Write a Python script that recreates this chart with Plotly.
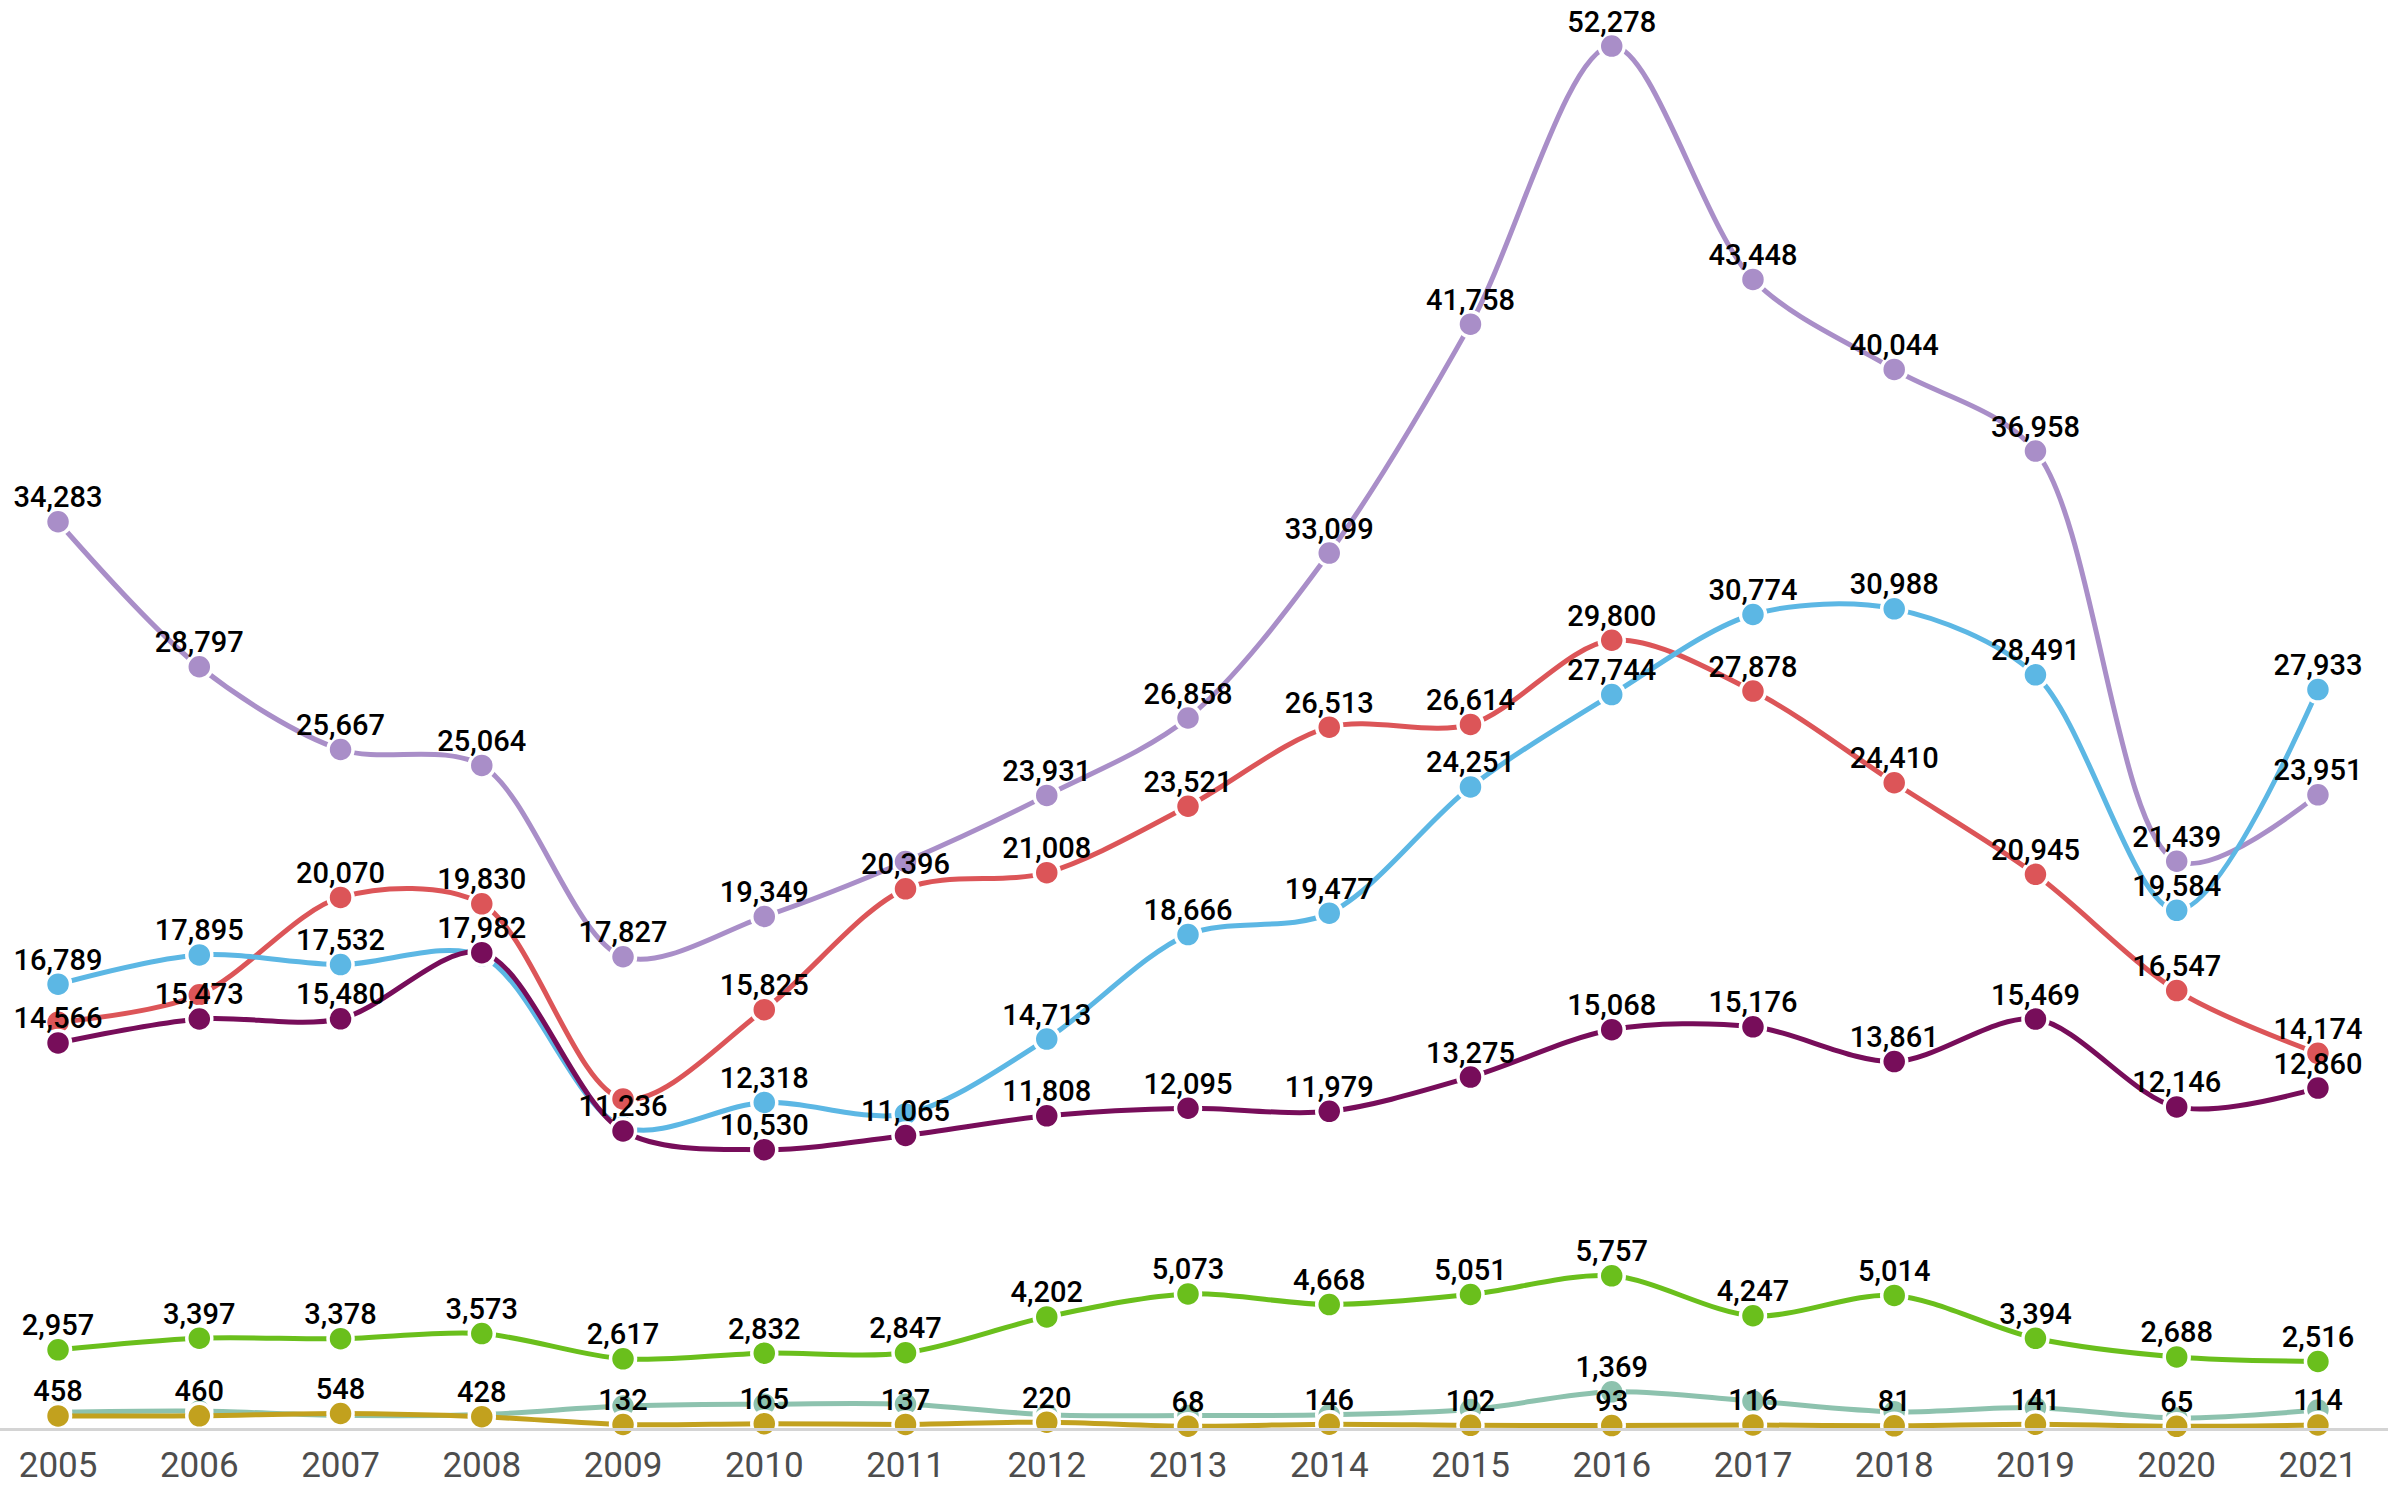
import plotly.graph_objects as go

years = list(range(2005, 2022))

# series values (hidden labels were estimated from positions)
purple = [34283, 28797, 25667, 25064, 17827, 19349, 21430, 23931, 26858, 33099,
          41758, 52278, 43448, 40044, 36958, 21439, 23951]
blue = [16789, 17895, 17532, 17850, 11390, 12318, 11880, 14713, 18666, 19477,
        24251, 27744, 30774, 30988, 28491, 19584, 27933]
red = [15350, 16390, 20070, 19830, 12450, 15825, 20396, 21008, 23521, 26513,
       26614, 29800, 27878, 24410, 20945, 16547, 14174]
maroon = [14566, 15473, 15480, 17982, 11236, 10530, 11065, 11808, 12095, 11979,
          13275, 15068, 15176, 13861, 15469, 12146, 12860]
green = [2957, 3397, 3378, 3573, 2617, 2832, 2847, 4202, 5073, 4668,
         5051, 5757, 4247, 5014, 3394, 2688, 2516]
teal = [600, 640, 480, 510, 830, 900, 900, 505, 470, 500,
        700, 1369, 1020, 610, 770, 380, 680]
gold = [458, 460, 548, 428, 132, 165, 137, 220, 68, 146,
        102, 93, 116, 81, 141, 65, 114]

# years whose value label is hidden in the original (overlaps)
hidden = {
    "purple": [2011],
    "blue": [2008, 2009, 2011],
    "red": [2005, 2006, 2009],
    "maroon": [],
    "green": [],
    "teal": [y for y in years if y != 2016],
    "gold": [],
}

series = [
    ("purple", purple, "#a98ec8"),
    ("red", red, "#dc5558"),
    ("blue", blue, "#5cb7e4"),
    ("maroon", maroon, "#770d5a"),
    ("green", green, "#6abf1c"),
    ("teal", teal, "#8dc2ae"),
    ("gold", gold, "#c2a11e"),
]

fig = go.Figure()
for name, vals, color in series:
    fig.add_trace(go.Scatter(
        x=years, y=vals, name=name,
        mode="lines+markers",
        line=dict(color=color, width=5, shape="spline", smoothing=0.9),
        marker=dict(size=25, color=color, line=dict(color="white", width=3.5)),
        cliponaxis=False,
        hoverinfo="skip",
    ))

# value labels on top of all the lines (invisible markers only set the offset)
for name, vals, color in series:
    labels = ["" if y in hidden[name] else f"{v:,}" for y, v in zip(years, vals)]
    fig.add_trace(go.Scatter(
        x=years, y=vals, mode="markers+text",
        marker=dict(size=10, opacity=0),
        text=labels, textposition="top center",
        textfont=dict(family="Roboto", size=29, color="#000000", weight=500),
        cliponaxis=False,
        hoverinfo="skip",
    ))

fig.update_xaxes(
    range=[2004.589, 2021.496],
    tickvals=years, ticktext=[str(y) for y in years],
    showgrid=False, zeroline=False,
    showline=True, linecolor="#d4d4d4", linewidth=3,
    ticks="outside", ticklen=4, tickcolor="rgba(0,0,0,0)",
    tickfont=dict(family="Roboto", size=35, color="#4d4d4d"),
)
fig.update_yaxes(range=[0, 54020], visible=False, showgrid=False, zeroline=False)

fig.update_layout(
    width=2397, height=1486,
    margin=dict(l=0, r=9, t=0, b=53),
    plot_bgcolor="white", paper_bgcolor="white",
    showlegend=False,
)

fig.write_html("out.html", config={"displayModeBar": False},
               post_script="document.body.style.margin='0';")
